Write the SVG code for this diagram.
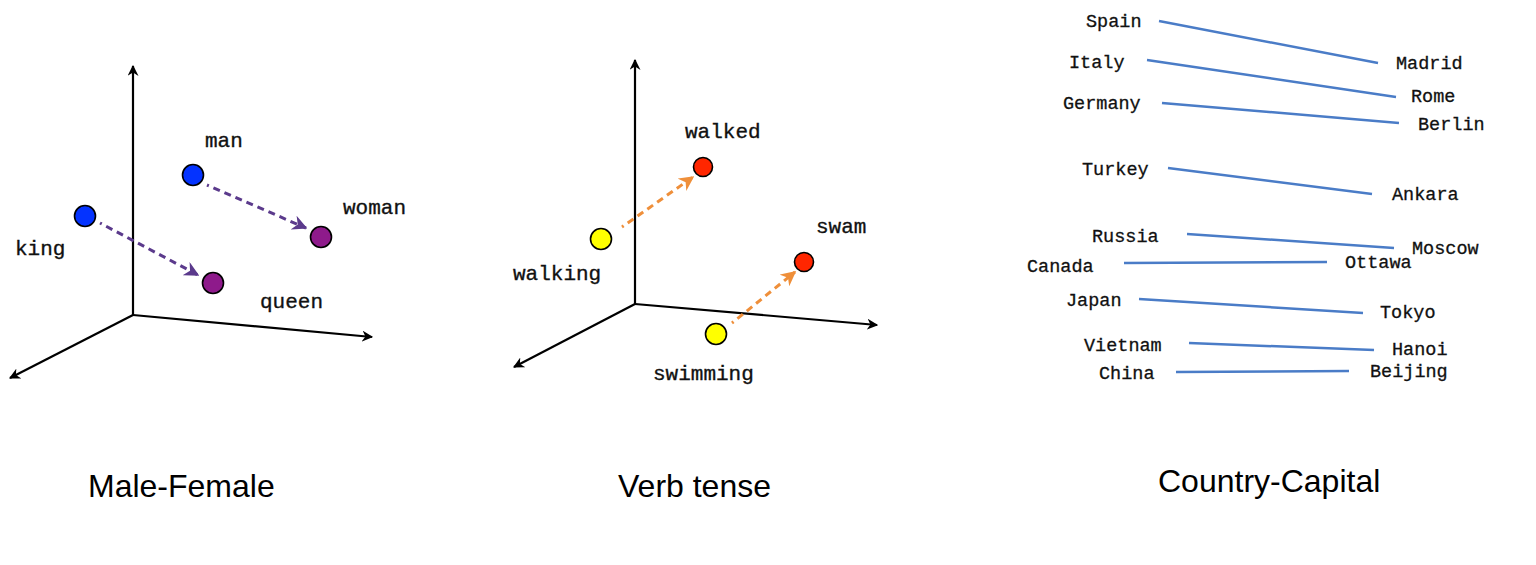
<svg xmlns="http://www.w3.org/2000/svg" width="1536" height="565" viewBox="0 0 1536 565">
<style>
.ax{stroke:#000;stroke-width:2.2;fill:none}
.lbl{font-family:"Liberation Mono","Courier New",monospace;font-size:21px;fill:#111;stroke:#111;stroke-width:0.35}
.cap{font-family:"Liberation Mono","Courier New",monospace;font-size:18.5px;fill:#111;stroke:#111;stroke-width:0.3}
.ttl{font-family:"Liberation Sans",Arial,sans-serif;font-size:32px;fill:#000}
.pt{stroke:#000;stroke-width:1.6}
.pv{stroke:#5b3a8c;stroke-width:3;stroke-dasharray:2 5 7 5 7 5 7 5 7 5 7 5 7 5 7 5 7 5 7 5 7 5 7 5;fill:none}
.ov{stroke:#ef8f3a;stroke-width:3;stroke-dasharray:2 5 7 5 7 5 7 5 7 5 7 5 7 5 7 5 7 5 7 5 7 5 7 5;fill:none}
.cl{stroke:#4a7cc7;stroke-width:2.5;fill:none}
</style>
<defs>
<marker id="ah" viewBox="0 0 10 10" refX="9" refY="5" markerWidth="11" markerHeight="11" markerUnits="userSpaceOnUse" orient="auto">
<path d="M0,0 L10,5 L0,10 L3,5 Z" fill="#000"/>
</marker>
<marker id="ap" viewBox="0 0 10 10" refX="9" refY="5" markerWidth="5" markerHeight="5" orient="auto">
<path d="M0,0 L10,5 L0,10 L3,5 Z" fill="#5b3a8c"/>
</marker>
<marker id="ao" viewBox="0 0 10 10" refX="9" refY="5" markerWidth="5" markerHeight="5" orient="auto">
<path d="M0,0 L10,5 L0,10 L3,5 Z" fill="#ef8f3a"/>
</marker>
</defs>
<rect width="1536" height="565" fill="#fff"/>

<g id="axes1">
<path class="ax" d="M133,315 L133,66" marker-end="url(#ah)"/>
<path class="ax" d="M133,315 L372,337" marker-end="url(#ah)"/>
<path class="ax" d="M133,315 L10,378" marker-end="url(#ah)"/>
</g>
<g id="axes2">
<path class="ax" d="M635,304 L635,60" marker-end="url(#ah)"/>
<path class="ax" d="M635,304 L877,325" marker-end="url(#ah)"/>
<path class="ax" d="M635,304 L514,367" marker-end="url(#ah)"/>
</g>

<g id="connectors">
<path class="pv" d="M207,185 L306,228" marker-end="url(#ap)"/>
<path class="pv" d="M100,223 L198,275" marker-end="url(#ap)"/>
<path class="ov" d="M622,227 L693,177" marker-end="url(#ao)"/>
<path class="ov" d="M732,323 L795,272" marker-end="url(#ao)"/>
<line class="cl" x1="1159" y1="21" x2="1378" y2="63"/>
<line class="cl" x1="1147" y1="60" x2="1396" y2="97"/>
<line class="cl" x1="1162" y1="103" x2="1399" y2="123"/>
<line class="cl" x1="1168" y1="168" x2="1372" y2="194"/>
<line class="cl" x1="1187" y1="234" x2="1394" y2="248"/>
<line class="cl" x1="1124" y1="263" x2="1327" y2="262"/>
<line class="cl" x1="1139" y1="299" x2="1363" y2="313"/>
<line class="cl" x1="1189" y1="343" x2="1374" y2="350"/>
<line class="cl" x1="1176" y1="372" x2="1349" y2="371"/>
</g>

<g id="man"><circle class="pt" cx="193" cy="175" r="10.5" fill="#0433ff"/><text class="lbl" x="205" y="147">man</text></g>
<g id="king"><circle class="pt" cx="85" cy="216" r="10.5" fill="#0433ff"/><text class="lbl" x="15" y="255">king</text></g>
<g id="woman"><circle class="pt" cx="321" cy="237" r="10.5" fill="#8e1a8b"/><text class="lbl" x="343" y="214">woman</text></g>
<g id="queen"><circle class="pt" cx="213" cy="283" r="10.5" fill="#8e1a8b"/><text class="lbl" x="260" y="308">queen</text></g>

<g id="walked"><circle class="pt" cx="703" cy="167" r="9.5" fill="#ff2600"/><text class="lbl" x="685" y="138">walked</text></g>
<g id="walking"><circle class="pt" cx="601" cy="239" r="10.5" fill="#ffff00"/><text class="lbl" x="513" y="280">walking</text></g>
<g id="swam"><circle class="pt" cx="804" cy="262" r="9.5" fill="#ff2600"/><text class="lbl" x="816" y="233">swam</text></g>
<g id="swimming"><circle class="pt" cx="716" cy="334" r="10.5" fill="#ffff00"/><text class="lbl" x="653" y="380">swimming</text></g>

<g id="spain"><text class="cap" x="1086" y="27">Spain</text></g>
<g id="madrid"><text class="cap" x="1396" y="69">Madrid</text></g>
<g id="italy"><text class="cap" x="1069" y="68">Italy</text></g>
<g id="rome"><text class="cap" x="1411" y="102">Rome</text></g>
<g id="germany"><text class="cap" x="1063" y="109">Germany</text></g>
<g id="berlin"><text class="cap" x="1418" y="130">Berlin</text></g>
<g id="turkey"><text class="cap" x="1082" y="175">Turkey</text></g>
<g id="ankara"><text class="cap" x="1392" y="200">Ankara</text></g>
<g id="russia"><text class="cap" x="1092" y="242">Russia</text></g>
<g id="moscow"><text class="cap" x="1412" y="254">Moscow</text></g>
<g id="canada"><text class="cap" x="1027" y="272">Canada</text></g>
<g id="ottawa"><text class="cap" x="1345" y="268">Ottawa</text></g>
<g id="japan"><text class="cap" x="1066" y="306">Japan</text></g>
<g id="tokyo"><text class="cap" x="1380" y="318">Tokyo</text></g>
<g id="vietnam"><text class="cap" x="1084" y="351">Vietnam</text></g>
<g id="hanoi"><text class="cap" x="1392" y="355">Hanoi</text></g>
<g id="china"><text class="cap" x="1099" y="379">China</text></g>
<g id="beijing"><text class="cap" x="1370" y="377">Beijing</text></g>

<g id="titles">
<text class="ttl" x="88" y="497">Male-Female</text>
<text class="ttl" x="618" y="497">Verb tense</text>
<text class="ttl" x="1158" y="492">Country-Capital</text>
</g>
</svg>
